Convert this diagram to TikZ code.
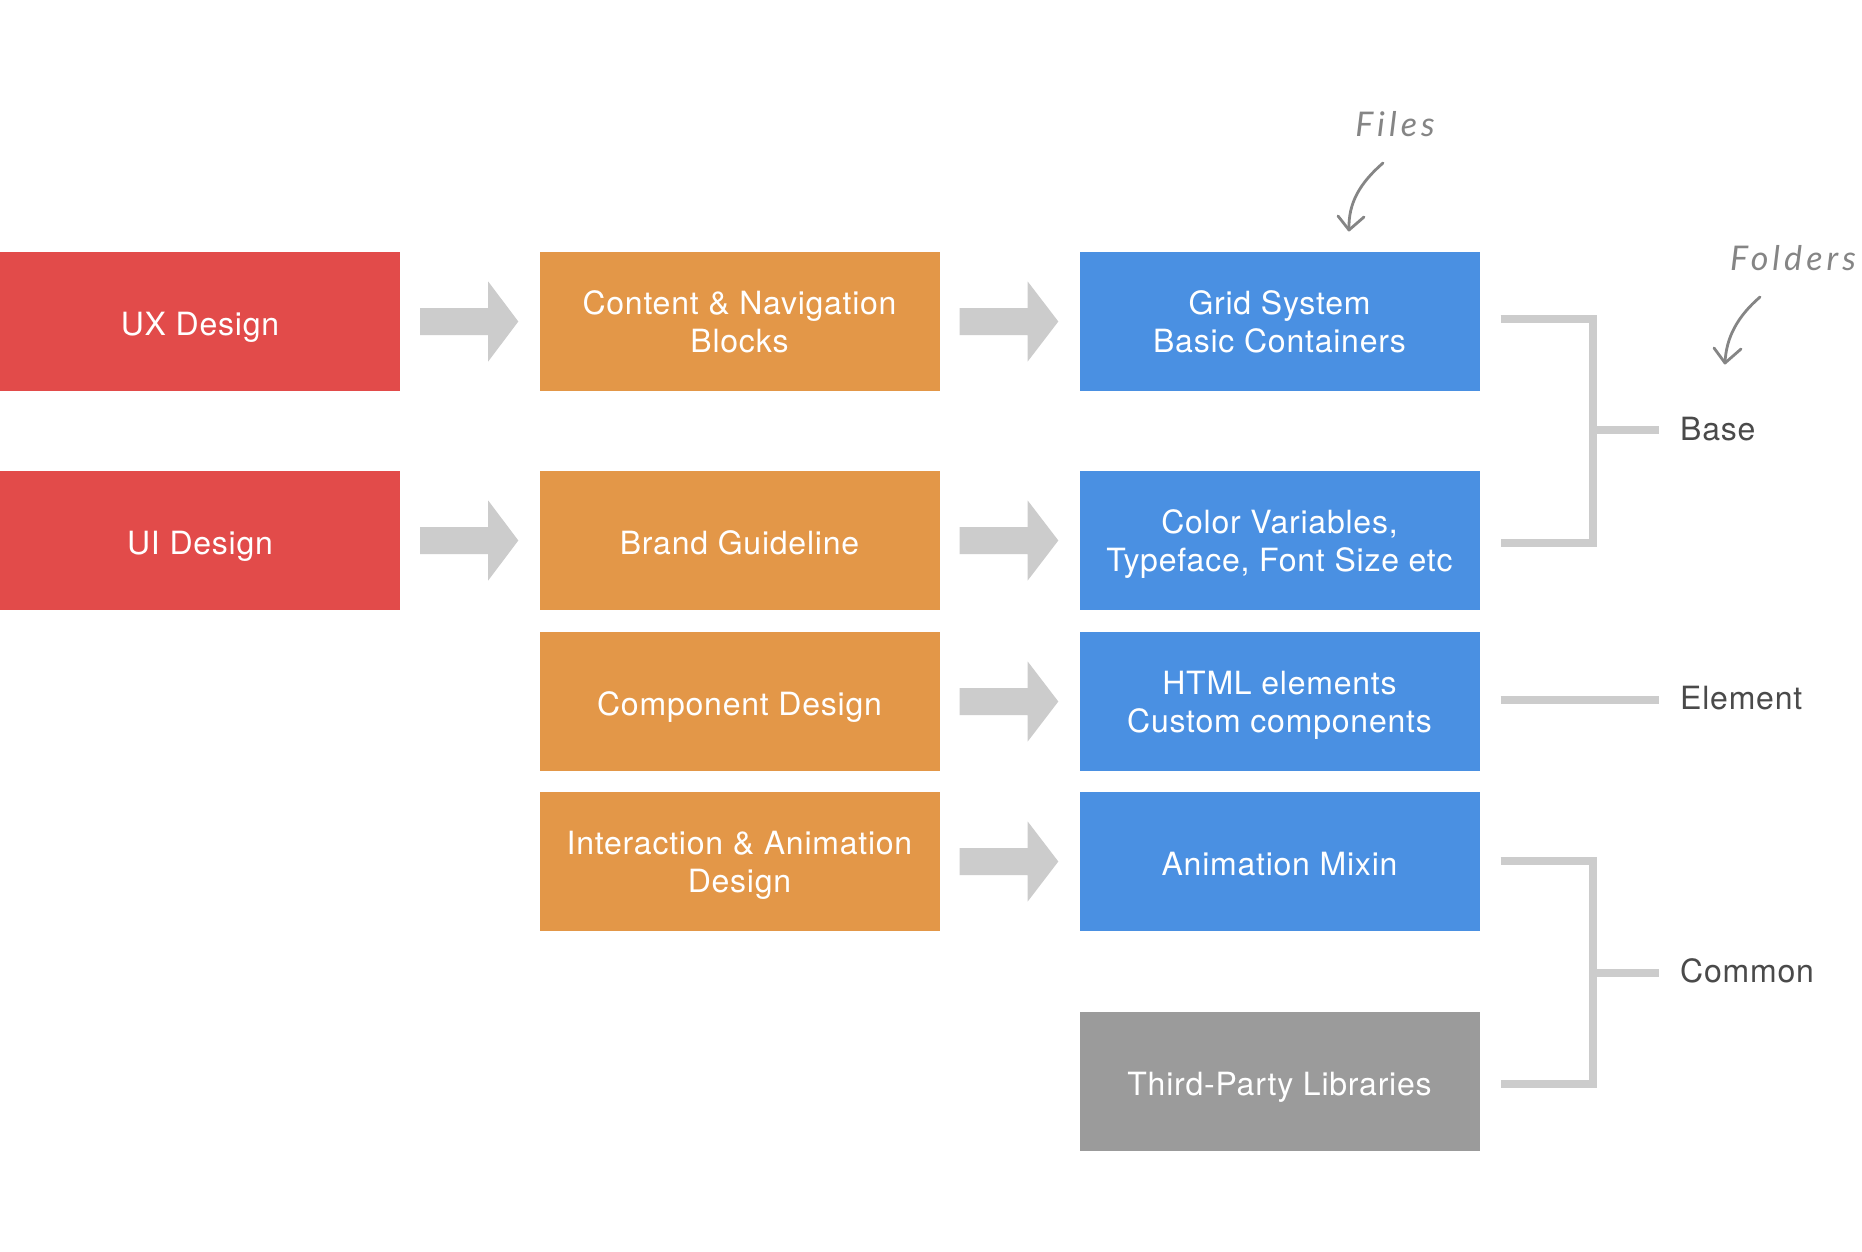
\documentclass[tikz,border=0pt]{standalone}
\usepackage{fontspec}
\setmainfont{TeX Gyre Heros}[LetterSpace=2.4]
\newfontfamily\handfont{Lato}[LetterSpace=12]
\usetikzlibrary{calc}
\definecolor{uxred}{HTML}{E24B4A}
\definecolor{navorange}{HTML}{E39748}
\definecolor{fileblue}{HTML}{4A90E2}
\definecolor{libgray}{HTML}{9B9B9B}
\definecolor{arrowgray}{HTML}{CCCCCC}
\definecolor{labelgray}{HTML}{4A4A4A}
\definecolor{notegray}{HTML}{858585}
\newcommand\nodepth[1]{\raisebox{0pt}[\height][0pt]{#1}}
\newcommand\bigarr[2]{%
  \fill[arrowgray] ($(#1.east)+(20,13.5)$) -- ($(#1.east)+(88,13.5)$) -- ($(#1.east)+(88,40)$)
   -- ($(#2.west)+(-21,0)$) -- ($(#1.east)+(88,-40)$) -- ($(#1.east)+(88,-13.5)$)
   -- ($(#1.east)+(20,-13.5)$) -- cycle;}
\begin{document}
\begin{tikzpicture}[x=1pt,y=-1pt,
  box/.style={minimum width=400pt,minimum height=139pt,inner sep=0pt,text=white,
    align=center,font=\fontsize{32}{38}\selectfont},
  oneline/.style={text height=28pt,text depth=0pt},
  uxbox/.style={box,fill=uxred},
  orbox/.style={box,fill=navorange},
  blbox/.style={box,fill=fileblue},
  grbox/.style={box,fill=libgray},
  bracket/.style={draw=arrowgray,line width=8pt},
  folder/.style={anchor=west,text=labelgray,inner sep=0pt,text height=23pt,text depth=3pt,
    font=\fontsize{32}{38}\selectfont},
  note/.style={text=notegray,inner sep=0pt,font=\handfont\itshape\fontsize{34}{38}\selectfont},
  notearrow/.style={draw=notegray,line width=2.8pt,line cap=round,line join=round}]
\useasboundingbox (0,0) rectangle (1862,1252);
\fill[white] (0,0) rectangle (1862,1252);

\node[uxbox,oneline] (ux) at (200,321.5) {UX Design};
\node[uxbox,oneline] (ui) at (200,540.5) {UI Design};

\node[orbox] (cnb) at (739.5,321.5) {Content \& Navigation\\\nodepth{Blocks}};
\node[orbox,oneline] (brand) at (739.5,540.5) {Brand Guideline};
\node[orbox,oneline] (comp) at (739.5,701.5) {Component Design};
\node[orbox] (inter) at (739.5,861.5) {Interaction \& Animation\\\nodepth{Design}};

\node[blbox] (grid) at (1279.5,321.5) {Grid System\\\nodepth{Basic Containers}};
\node[blbox] (color) at (1279.5,540.5) {Color Variables,\\\nodepth{Typeface, Font Size etc}};
\node[blbox] (html) at (1279.5,701.5) {HTML elements\\\nodepth{Custom components}};
\node[blbox,oneline] (anim) at (1279.5,861.5) {Animation Mixin};
\node[grbox,oneline] (third) at (1279.5,1081.5) {Third-Party Libraries};

\bigarr{ux}{cnb}
\bigarr{ui}{brand}
\bigarr{cnb}{grid}
\bigarr{brand}{color}
\bigarr{comp}{html}
\bigarr{inter}{anim}

\node[folder] (base) at (1680,430) {Base};
\node[folder] (element) at (1680,699.5) {Element};
\node[folder] (common) at (1680,972.5) {Common};

\coordinate (bx) at (1593,0);
\coordinate (hx) at ($(html.east)+(21,0)$);
\coordinate (bt) at ($(grid.east)+(21,-3)$);
\coordinate (bb) at ($(color.east)+(21,2.5)$);
\coordinate (ct) at ($(anim.east)+(21,-1)$);
\coordinate (cb) at ($(third.east)+(21,2.5)$);
\draw[bracket] (bt) -- (bt -| bx) -- (bb -| bx) -- (bb);
\draw[bracket] (base.west -| bx) -- ($(base.west)+(-21,0)$);
\draw[bracket] (hx |- element.west) -- ($(element.west)+(-21,0)$);
\draw[bracket] (ct) -- (ct -| bx) -- (cb -| bx) -- (cb);
\draw[bracket] (common.west -| bx) -- ($(common.west)+(-21,0)$);

\node[note] (files) at (1395,124) {Files};
\node[note] (folders) at (1793,258) {Folders};
\coordinate (ftip) at (1349,230);
\coordinate (dtip) at (1725,363);
\draw[notearrow] (1383,163) .. controls (1360,183) and (1348,203) .. (ftip);
\draw[notearrow] (1338,216) -- (ftip) -- (1364,217);
\draw[notearrow] (1760,297) .. controls (1738,316) and (1726,337) .. (dtip);
\draw[notearrow] (1714,348) -- (dtip) -- (1741,349);
\end{tikzpicture}
\end{document}
